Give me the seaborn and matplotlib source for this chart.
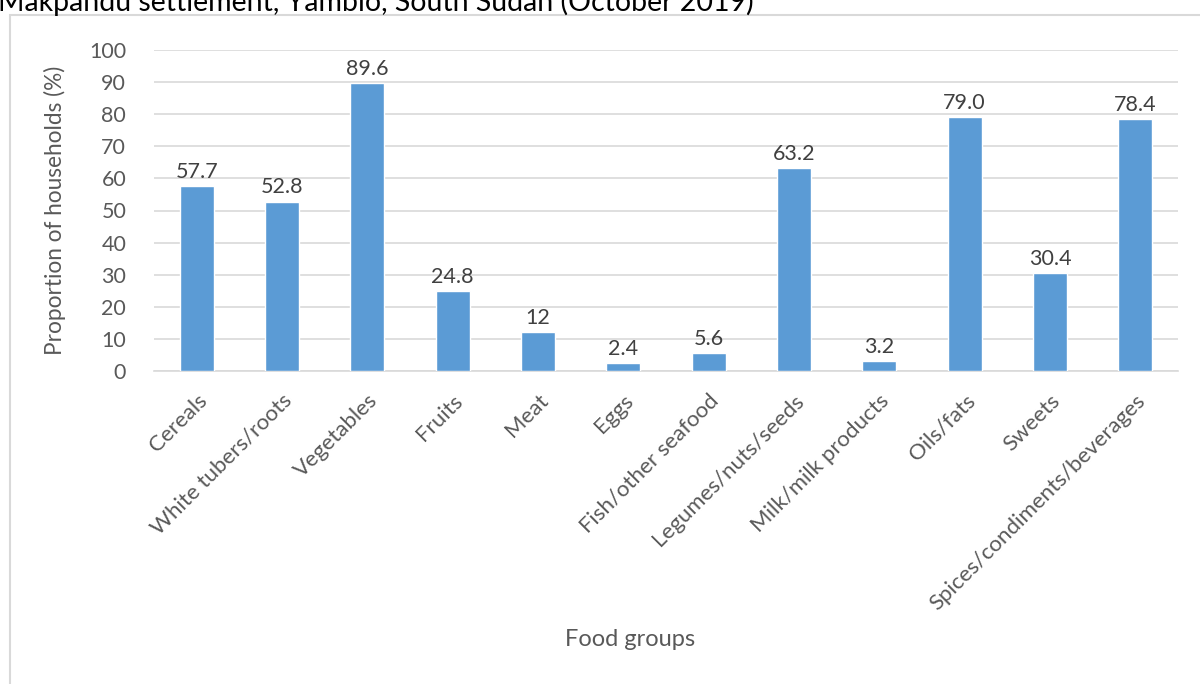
import matplotlib
matplotlib.use("Agg")
import matplotlib.pyplot as plt
import matplotlib.patches as patches
import seaborn as sns
import pandas as pd

categories = ["Cereals", "White tubers/roots", "Vegetables", "Fruits", "Meat", "Eggs",
              "Fish/other seafood", "Legumes/nuts/seeds", "Milk/milk products",
              "Oils/fats", "Sweets", "Spices/condiments/beverages"]
values = [57.7, 52.8, 89.6, 24.8, 12, 2.4, 5.6, 63.2, 3.2, 79.0, 30.4, 78.4]
value_labels = ["57.7", "52.8", "89.6", "24.8", "12", "2.4", "5.6", "63.2", "3.2",
                "79.0", "30.4", "78.4"]
yticks = [0, 10, 20, 30, 40, 50, 60, 70, 80, 90, 100]

sns.set_theme(style="white")
plt.rcParams["font.family"] = ["Lato", "DejaVu Sans"]

text_color = "#595959"
grid_color = "#d9d9d9"
bar_color = "#5b9bd5"

df = pd.DataFrame({"group": categories, "pct": values})

fig = plt.figure(figsize=(12, 6.84), dpi=100)
ax = fig.add_axes([154 / 1200, 1 - 371 / 684, (1178 - 154) / 1200, (371 - 50) / 684])

sns.barplot(data=df, x="group", y="pct", color=bar_color, width=0.4,
            saturation=1, ax=ax, zorder=3)

ax.set_ylim(0, 100)
ax.set_yticks(yticks)
ax.yaxis.grid(True, color=grid_color, linewidth=1.2, zorder=0)
ax.set_axisbelow(True)
for s in ["top", "right", "left"]:
    ax.spines[s].set_visible(False)
ax.spines["bottom"].set_color(grid_color)
ax.spines["bottom"].set_linewidth(1.2)
ax.tick_params(axis="both", length=0, colors=text_color, labelsize=15.5)
ax.tick_params(axis="y", pad=20)
ax.set_xticks(range(len(categories)))
ax.set_xticklabels(categories, rotation=45, ha="right", rotation_mode="anchor",
                   color=text_color, fontsize=16)
ax.tick_params(axis="x", pad=14)

for container in ax.containers:
    ax.bar_label(container, labels=value_labels, padding=3, color="#404040",
                 fontsize=15.5)

ax.set_xlabel("")
ax.set_ylabel("")
fig.text(55 / 1200, 1 - 210 / 684, "Proportion of households (%)", rotation=90,
         ha="center", va="center", color=text_color, fontsize=16.3)
fig.text(630 / 1200, 1 - 640 / 684, "Food groups", ha="center", va="center",
         color=text_color, fontsize=17)

# chart frame
frame = patches.Rectangle((10 / 1200, -0.1), 1.2, 1 - 15 / 684 + 0.1,
                          transform=fig.transFigure, fill=False,
                          edgecolor=grid_color, linewidth=1.5)
fig.add_artist(frame)

fig.text(-2 / 1200, 1 - 2 / 684, "Makpandu settlement, Yambio, South Sudan (October 2019)",
         ha="left", va="center", color="#000000", fontsize=20.5)

fig.savefig("out.png", dpi=100)
